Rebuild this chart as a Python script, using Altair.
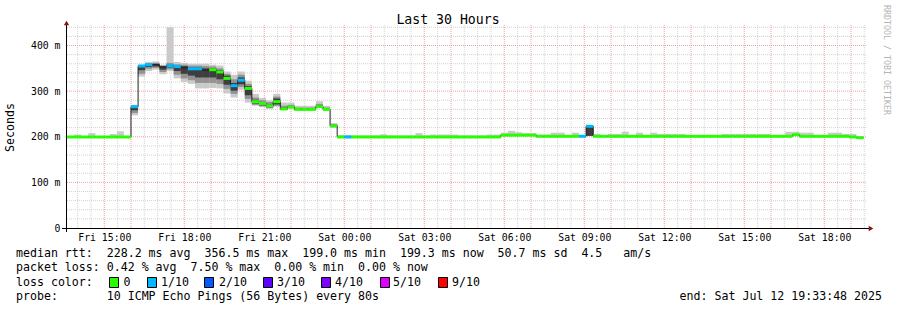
import altair as alt
import pandas as pd

# ---------------- values ----------------
BIN_START_UTC = "2025-07-11T13:20:00Z"      # first 16-minute consolidation bin
BIN_MINUTES = 16
VIEW_START = (2025, 7, 11, 13, 33, 48)
VIEW_END = (2025, 7, 12, 19, 33, 48)

# median round-trip time per bin (ms)
MEDIAN_MS = ([199.5] * 10 +
             [266, 355, 358, 358, 353, 356, 354, 351, 349, 349, 346, 347, 342, 328, 312,
              324, 306, 277, 273, 268, 277, 261, 265, 260, 260, 260, 266, 260, 224] +
             [199.5] * 23 + [203.5] * 5 + [201] * 7 + [223] + [201] * 28 + [204.5] +
             [201] * 7 + [199.5, 198])

# loss bucket per bin (index into LOSS_COLORS, -1 = no coloured bar)
LOSS = ([0] * 10 + [1, 1, 1, -1, -1, 1, 1, -1, 1, 1, -1, 0, 0, 0, 1, 1] + [0] * 14 + [1] +
        [0] * 32 + [1, 1] + [0] * 38)

# outer smoke band (min / max ping, ms)
LO1 = ([198.5] * 10 +
       [247, 332, 344, 347, 337, 344, 328, 320, 316, 306, 306, 307, 306, 295, 286,
        303, 275, 268, 265, 261, 266, 259, 262, 258, 258, 258, 263, 258, 220] +
       [198] * 23 + [201.5] * 5 + [199.5] * 7 + [202] + [199.5] * 28 + [202.5] +
       [199.5] * 7 + [198, 196.5])
HI1 = ([201, 201, 205, 201, 208, 201, 201, 206, 212, 201] +
       [270, 358, 364, 365, 358, 440, 364, 362, 360, 360, 360, 358, 356, 343, 336,
        343, 323, 294, 285, 280, 294, 275, 275, 268, 268, 268, 278, 268, 230] +
       [204, 204] + [203] * 4 + [205.5] + [203] * 4 + [208, 203] + [205] * 4 + [203] * 4 +
       [205] * 2 +
       [209, 213, 210, 208, 208, 205, 205, 209, 209, 203, 209, 203, 224, 206, 203, 206,
        206, 211, 203, 209, 203, 209] +
       [206] * 4 + [203] * 5 + [206] * 7 + [203] * 2 + [211] * 2 + [209] * 2 + [203] * 2 +
       [209] * 2 + [206] * 2 + [200])

# middle smoke band
LO2 = ([None] * 10 +
       [252, 338, 349, 351, 342, 348, 336, 328, 324, 318, 318, 318, 316, 305, 294,
        309, 283, 270, 267, 263, 268, 259, 263, 259, 259, 259, 264, 259, 221] +
       [None] * 35 + [202] + [None] * 38)
HI2 = ([None] * 10 +
       [268, 357, 361, 362, 356, 362, 359, 358, 356, 356, 355, 354, 350, 338, 326,
        336, 316, 286, 280, 276, 288, 268, 270, 264, 264, 264, 272, 264, 228] +
       [None] * 35 + [224] + [None] * 38)
# inner smoke band
LO3 = ([None] * 10 +
       [258, 346, 353, 354, 347, 352, 344, 338, 334, 330, 330, 330, 326, 314, 301,
        315, 291, 273, 269, 265, 271, 260, 264, 259, 259, 259, 265, 259, 222] +
       [None] * 35 + [202] + [None] * 38)
HI3 = ([None] * 10 +
       [267, 356, 359, 360, 355, 358, 356, 355, 352, 352, 350, 350, 346, 334, 318,
        330, 311, 281, 276, 271, 284, 264, 267, 262, 262, 262, 269, 262, 226] +
       [None] * 35 + [224] + [None] * 38)

LOSS_COLORS = ["#26ff00", "#00b8ff", "#0059ff", "#5e00ff", "#7e00ff", "#dd00ff", "#ff0000"]
LOSS_LABELS = ["0", "1/10", "2/10", "3/10", "4/10", "5/10", "9/10"]
SMOKE_COLORS = ["#cacaca", "#939393", "#3e3e3e"]

Y_TICKS = [0, 100, 200, 300, 400]
Y_MINOR = [20, 40, 60, 80, 120, 140, 160, 180, 220, 240, 260, 280, 320, 340, 360, 380, 420, 440]
Y_MAJOR = [100, 200, 300, 400]
X_LABEL_TIMES = [(2025, 7, 11, 15), (2025, 7, 11, 18), (2025, 7, 11, 21), (2025, 7, 12, 0),
                 (2025, 7, 12, 3), (2025, 7, 12, 6), (2025, 7, 12, 9), (2025, 7, 12, 12),
                 (2025, 7, 12, 15), (2025, 7, 12, 18)]

TITLE = "Last 30 Hours"
Y_TITLE = "Seconds"
WATERMARK = "RRDTOOL / TOBI OETIKER"
ROW1 = "median rtt:  228.2 ms avg  356.5 ms max  199.0 ms min  199.3 ms now  50.7 ms sd  4.5   am/s"
ROW2 = "packet loss: 0.42 % avg  7.50 % max  0.00 % min  0.00 % now"
ROW3 = "loss color:"
ROW4 = "probe:       10 ICMP Echo Pings (56 Bytes) every 80s"
END_TEXT = "end: Sat Jul 12 19:33:48 2025"

# ---------------- tables ----------------
def iso(ts):
    return ts.strftime("%Y-%m-%dT%H:%M:%SZ")

start = pd.Timestamp(BIN_START_UTC)
step = pd.Timedelta(minutes=BIN_MINUTES)
t0 = [start + step * i for i in range(len(MEDIAN_MS))]
t1 = [t + step for t in t0]
df = pd.DataFrame({
    "t0": [iso(t) for t in t0], "t1": [iso(t) for t in t1],
    "med": MEDIAN_MS, "loss": LOSS,
    "lo1": LO1, "hi1": HI1, "lo2": LO2, "hi2": HI2, "lo3": LO3, "hi3": HI3,
})
df["col"] = [LOSS_COLORS[l] if l >= 0 else "" for l in LOSS]

line_df = pd.DataFrame({"t": list(df["t0"]) + [df["t1"].iloc[-1]],
                        "v": list(df["med"]) + [df["med"].iloc[-1]]})

grid_t = pd.date_range("2025-07-11T13:30:00Z", "2025-07-12T19:30:00Z", freq="30min")
vmajor = [iso(t) for t in grid_t if t.minute == 0 and t.hour % 3 in (0, 1)]
vminor = [iso(t) for t in grid_t if not (t.minute == 0 and t.hour % 3 in (0, 1))]

# ---------------- encodings ----------------
FONT = "DejaVu Sans Mono"
def dt(y, mo, d, h, mi=0, s=0):
    return alt.DateTime(year=y, month=mo, date=d, hours=h, minutes=mi, seconds=s, utc=True)

xscale = alt.Scale(type="utc", domain=[dt(*VIEW_START), dt(*VIEW_END)])
yscale = alt.Scale(domain=[0, 445], nice=False, zero=True)
xaxis = alt.Axis(values=[dt(*v) for v in X_LABEL_TIMES],
                 labelExpr="utcFormat(datum.value, '%a %H:%M')",
                 title=None, grid=False, domain=False, ticks=False, tickSize=0,
                 labelFont=FONT, labelFontSize=9.8, labelColor="#000000",
                 labelPadding=4, labelFlush=False, labelOverlap=False)
yaxis = alt.Axis(values=Y_TICKS, labelExpr="datum.value == 0 ? '0' : datum.value + ' m'",
                 title=None, grid=False, domain=False, ticks=False, tickSize=0,
                 labelFont=FONT, labelFontSize=9.8, labelColor="#000000",
                 labelPadding=6, labelFlush=False, labelOverlap=False)

def X(f):
    return alt.X(f"{f}:T", scale=xscale, axis=xaxis)

def Y(f):
    return alt.Y(f"{f}:Q", scale=yscale, axis=yaxis)

layers = []
# grid
layers.append(alt.Chart(pd.DataFrame({"t": vminor})).mark_rule(
    color="#d2d2d2", strokeDash=[1, 1], strokeWidth=1, clip=True).encode(x=X("t")))
layers.append(alt.Chart(pd.DataFrame({"v": Y_MINOR})).mark_rule(
    color="#d2d2d2", strokeDash=[1, 1], strokeWidth=1, clip=True).encode(y=Y("v")))
layers.append(alt.Chart(pd.DataFrame({"t": vmajor})).mark_rule(
    color="#f2a0a0", strokeDash=[1, 1], strokeWidth=1, clip=True).encode(x=X("t")))
layers.append(alt.Chart(pd.DataFrame({"v": Y_MAJOR})).mark_rule(
    color="#f2a0a0", strokeDash=[1, 1], strokeWidth=1, clip=True).encode(y=Y("v")))

# smoke
for i, c in enumerate(SMOKE_COLORS, start=1):
    sub = df.dropna(subset=[f"lo{i}", f"hi{i}"])
    layers.append(alt.Chart(sub).mark_rect(color=c, clip=True).encode(
        x=X("t0"), x2="t1", y=Y(f"lo{i}"), y2=f"hi{i}"))

# median step line
layers.append(alt.Chart(line_df).mark_line(
    interpolate="step-after", color="#202020", strokeWidth=1, clip=True).encode(
    x=X("t"), y=Y("v")))

# loss-coloured median bars
bars = df[df["loss"] >= 0]
layers.append(alt.Chart(bars).mark_rule(strokeWidth=3, strokeCap="butt", clip=True).encode(
    x=X("t0"), x2="t1", y=Y("med"), color=alt.Color("col:N", scale=None)))

one = pd.DataFrame({"a": [0]})
# axis lines and arrows
layers.append(alt.Chart(one).mark_rule(color="#000000", strokeWidth=1).encode(
    x=alt.value(-4), x2=alt.value(803), y=alt.value(203.5)))
layers.append(alt.Chart(one).mark_rule(color="#000000", strokeWidth=1).encode(
    x=alt.value(0.5), y=alt.value(-1), y2=alt.value(207)))
layers.append(alt.Chart(one).mark_point(shape="triangle-up", filled=True, size=28,
                                        color="#8b1010", opacity=1).encode(
    x=alt.value(0.5), y=alt.value(-2)))
layers.append(alt.Chart(one).mark_point(shape="triangle-right", filled=True, size=28,
                                        color="#8b1010", opacity=1).encode(
    x=alt.value(805), y=alt.value(203.5)))

def txt(s, x, y, size=11.6, align="left", angle=0, color="#000000"):
    s = s.replace(" ", "\u00a0")
    return alt.Chart(one).mark_text(text=s, font=FONT, fontSize=size, align=align,
                                    baseline="middle", angle=angle, color=color).encode(
        x=alt.value(x), y=alt.value(y))

layers.append(txt(TITLE, 382, -5.5, size=13.2, align="center"))
layers.append(txt(Y_TITLE, -55, 102.5, size=11.6, align="center", angle=270))
layers.append(txt(WATERMARK, 820, 35, size=8.3, align="center", angle=90, color="#b4b4b4"))
layers.append(txt(ROW1, -50, 229))
layers.append(txt(ROW2, -50, 243))
layers.append(txt(ROW3, -50, 257.5))
layers.append(txt(ROW4, -50, 271.5))
layers.append(txt(END_TEXT, 816, 271.5, align="right"))

# loss colour legend
SW_X = [43, 81, 138, 197, 255, 314, 372]
LB_X = [57.5, 95, 153, 211, 269, 327, 386]
for c, lab, sx, lx in zip(LOSS_COLORS, LOSS_LABELS, SW_X, LB_X):
    layers.append(alt.Chart(one).mark_rect(fill=c, stroke="#000000", strokeWidth=1).encode(
        x=alt.value(sx + 0.5), x2=alt.value(sx + 9.5), y=alt.value(252.5), y2=alt.value(262.5)))
    layers.append(txt(lab, lx, 257.5))

chart = alt.layer(*layers).properties(
    width=800, height=203,
    autosize=alt.AutoSizeParams(type="none"),
    padding={"left": 66, "top": 25, "right": 31, "bottom": 82},
    background="#ffffff",
).configure_view(stroke=None)

chart.save("out.html", embed_options={"renderer": "svg", "actions": False})
